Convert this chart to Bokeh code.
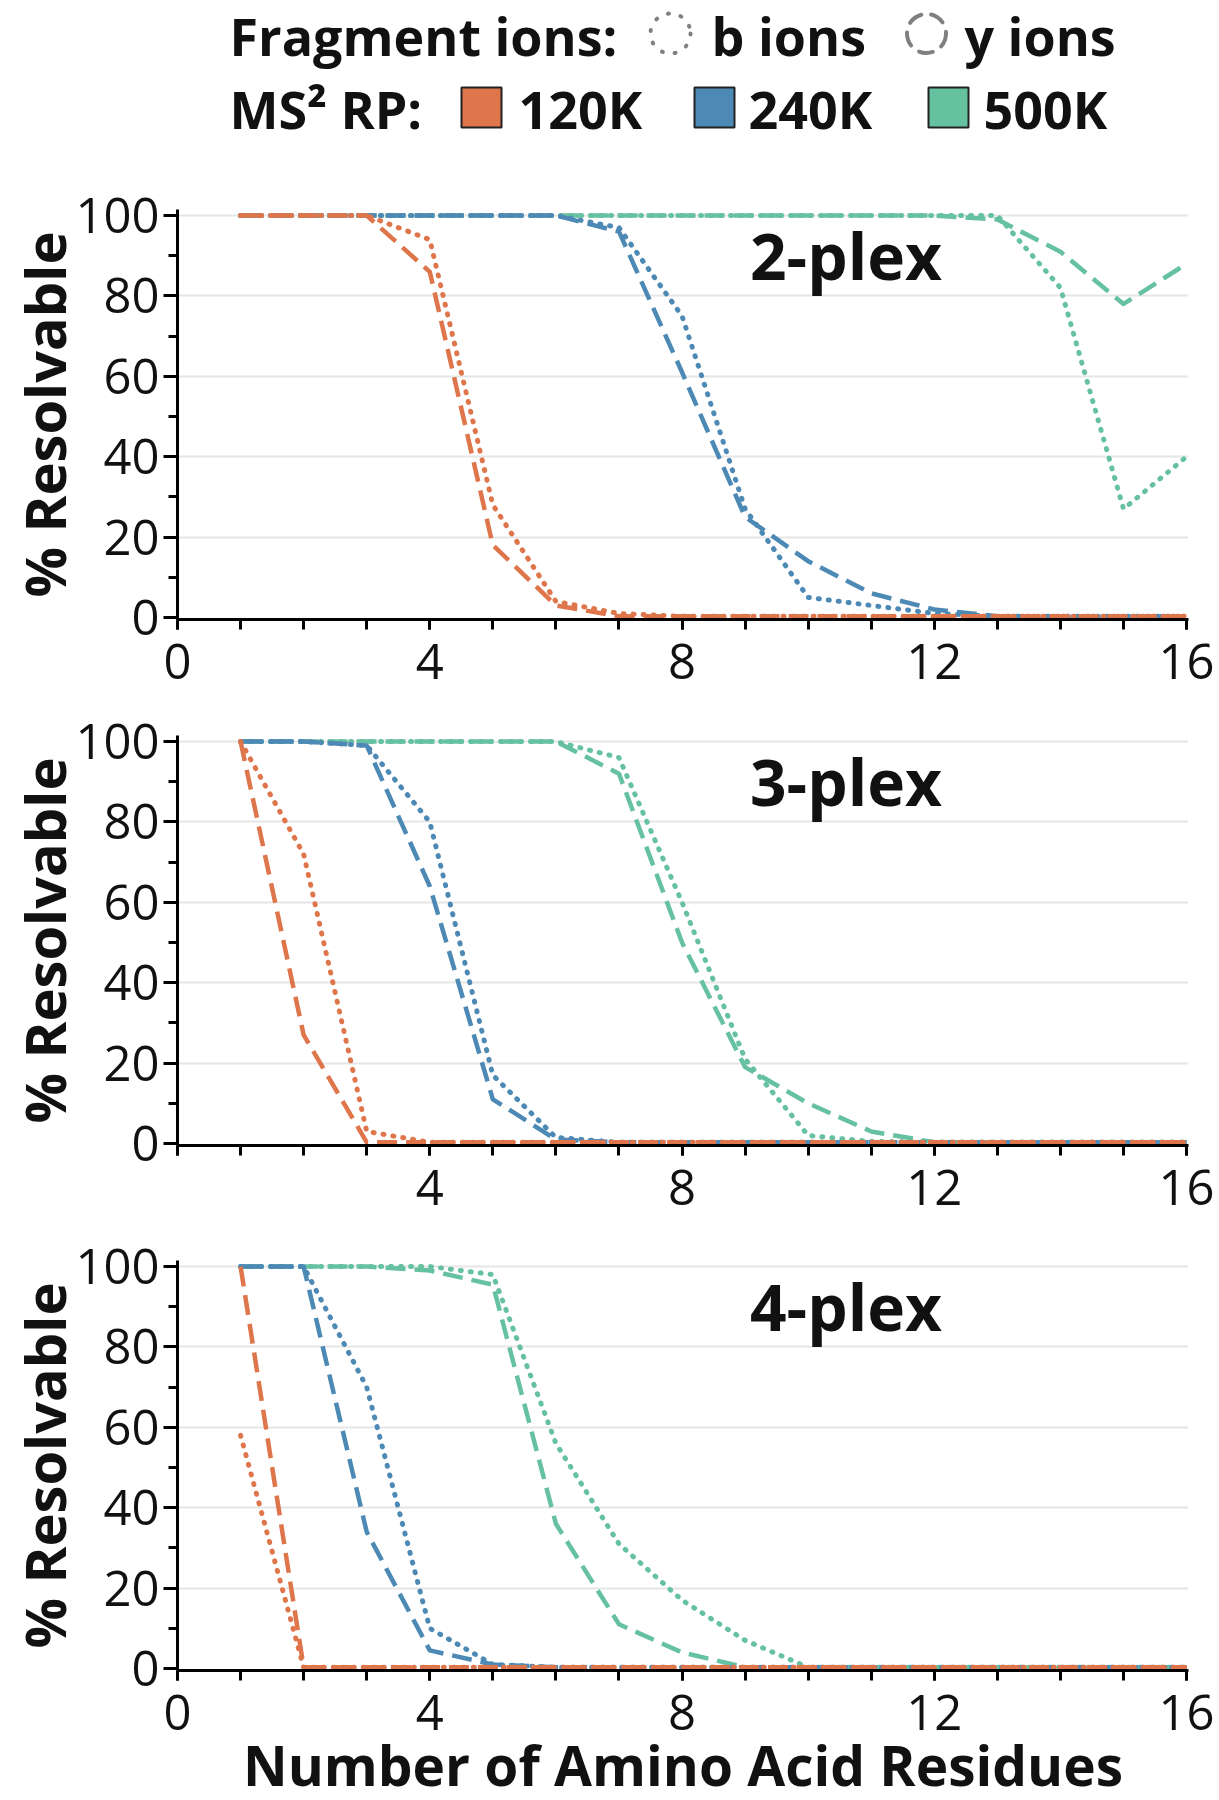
from bokeh.plotting import figure
from bokeh.models import Range1d, FixedTicker, Label
from bokeh.layouts import column
from bokeh.embed import file_html
from bokeh.resources import INLINE
from bokeh.core.properties import value

# ---------------- data ----------------
residues = list(range(1, 17))
plexes = ["2-plex", "3-plex", "4-plex"]
resolutions = ["120K", "240K", "500K"]
res_colors = ["#df754b", "#4d89b5", "#66c1a0"]
ion_types = ["b ions", "y ions"]
x_ticks = [0, 4, 8, 12, 16]
y_ticks = [0, 20, 40, 60, 80, 100]
x_title = "Number of Amino Acid Residues"
y_title = "% Resolvable"

# 2-plex
plex2_120K_b = [100, 100, 100, 94, 28, 4, 1, 0.3, 0.3, 0.3, 0.3, 0.3, 0.3, 0.3, 0.3, 0.3]
plex2_120K_y = [100, 100, 100, 86, 18, 3, 0.3, 0.3, 0.3, 0.3, 0.3, 0.3, 0.3, 0.3, 0.3, 0.3]
plex2_240K_b = [100, 100, 100, 100, 100, 100, 97, 75, 27, 5, 3, 1, 0.3, 0.3, 0.3, 0.3]
plex2_240K_y = [100, 100, 100, 100, 100, 100, 96, 61, 25, 14, 6, 2, 0.3, 0.3, 0.3, 0.3]
plex2_500K_b = [100, 100, 100, 100, 100, 100, 100, 100, 100, 100, 100, 100, 100, 82, 27, 40]
plex2_500K_y = [100, 100, 100, 100, 100, 100, 100, 100, 100, 100, 100, 100, 99, 91, 78, 88]

# 3-plex
plex3_120K_b = [100, 72, 3, 0.3, 0.3, 0.3, 0.3, 0.3, 0.3, 0.3, 0.3, 0.3, 0.3, 0.3, 0.3, 0.3]
plex3_120K_y = [100, 27, 0.3, 0.3, 0.3, 0.3, 0.3, 0.3, 0.3, 0.3, 0.3, 0.3, 0.3, 0.3, 0.3, 0.3]
plex3_240K_b = [100, 100, 99, 80, 17, 1.5, 0.3, 0.3, 0.3, 0.3, 0.3, 0.3, 0.3, 0.3, 0.3, 0.3]
plex3_240K_y = [100, 100, 99, 64, 11, 1, 0.3, 0.3, 0.3, 0.3, 0.3, 0.3, 0.3, 0.3, 0.3, 0.3]
plex3_500K_b = [100, 100, 100, 100, 100, 100, 96, 60, 21, 2, 0.5, 0.3, 0.3, 0.3, 0.3, 0.3]
plex3_500K_y = [100, 100, 100, 100, 100, 100, 92, 50, 19, 10, 3, 0.3, 0.3, 0.3, 0.3, 0.3]

# 4-plex
plex4_120K_b = [58, 0.3, 0.3, 0.3, 0.3, 0.3, 0.3, 0.3, 0.3, 0.3, 0.3, 0.3, 0.3, 0.3, 0.3, 0.3]
plex4_120K_y = [100, 0.3, 0.3, 0.3, 0.3, 0.3, 0.3, 0.3, 0.3, 0.3, 0.3, 0.3, 0.3, 0.3, 0.3, 0.3]
plex4_240K_b = [100, 100, 70, 10, 1, 0.3, 0.3, 0.3, 0.3, 0.3, 0.3, 0.3, 0.3, 0.3, 0.3, 0.3]
plex4_240K_y = [100, 100, 34, 4.5, 1, 0.3, 0.3, 0.3, 0.3, 0.3, 0.3, 0.3, 0.3, 0.3, 0.3, 0.3]
plex4_500K_b = [100, 100, 100, 100, 98, 56, 31, 17, 7, 0.3, 0.3, 0.3, 0.3, 0.3, 0.3, 0.3]
plex4_500K_y = [100, 100, 100, 99, 95.5, 36, 11, 4, 0.3, 0.3, 0.3, 0.3, 0.3, 0.3, 0.3, 0.3]

data = {
    "2-plex": {"120K": (plex2_120K_b, plex2_120K_y), "240K": (plex2_240K_b, plex2_240K_y), "500K": (plex2_500K_b, plex2_500K_y)},
    "3-plex": {"120K": (plex3_120K_b, plex3_120K_y), "240K": (plex3_240K_b, plex3_240K_y), "500K": (plex3_500K_b, plex3_500K_y)},
    "4-plex": {"120K": (plex4_120K_b, plex4_120K_y), "240K": (plex4_240K_b, plex4_240K_y), "500K": (plex4_500K_b, plex4_500K_y)},
}

# ---------------- styling ----------------
FONT = "Open Sans"
INK = "#111111"
BORDER_L, BORDER_R = 177, 31
FRAME_W, FRAME_H = 1011, 410
LEG_H = 150
DOT = dict(line_dash="1 9", line_cap="round")
DASH = dict(line_dash="20 9", line_cap="butt")

# ---------------- legend (data units == page pixels) ----------------
leg = figure(width=BORDER_L + FRAME_W + BORDER_R, height=LEG_H,
             x_range=Range1d(BORDER_L, BORDER_L + FRAME_W), y_range=Range1d(LEG_H, 0),
             x_axis_type=None, y_axis_type=None, output_backend="svg",
             toolbar_location=None, min_border=0,
             min_border_left=BORDER_L, min_border_right=BORDER_R)
leg.outline_line_color = None
txt = dict(text_font=value(FONT), text_font_style="bold", text_font_size="52px",
           text_color=INK, text_baseline="middle", text_align="left")
leg.text(x=[229], y=[35], text=["Fragment ions:"], **txt)
leg.text(x=[711, 964], y=[35, 35], text=ion_types, **txt)
leg.circle(x=[670], y=[33], radius=20, fill_color=None, line_color="#808080",
           line_width=4, line_dash="1 12", line_cap="round")
leg.circle(x=[926], y=[33], radius=19.5, fill_color=None, line_color="#808080",
           line_width=4, line_dash="14 10", line_cap="round")
leg.text(x=[229], y=[108], text=["MS² RP:"], **txt)
leg.rect(x=[481, 714, 948], y=[107, 107, 107], width=40, height=40,
         fill_color=res_colors, line_color="#222222", line_width=2)
leg.text(x=[518, 748, 983], y=[108] * 3, text=resolutions, **txt)

# ---------------- panels ----------------
panels = []
tops = [209 - LEG_H, 32, 31]
bottoms = [84, 84, 126]
for i, plex in enumerate(plexes):
    p = figure(frame_width=FRAME_W, frame_height=FRAME_H,
               x_range=Range1d(0, 16.03), y_range=Range1d(-0.5, 101.5),
               output_backend="svg", toolbar_location=None,
               min_border_left=BORDER_L, min_border_right=BORDER_R,
               min_border_top=tops[i], min_border_bottom=bottoms[i])
    p.outline_line_color = None
    p.background_fill_color = "white"
    p.xgrid.visible = False
    p.ygrid.ticker = FixedTicker(ticks=y_ticks[1:])
    p.ygrid.grid_line_color = "#e6e6e6"
    p.ygrid.grid_line_width = 2

    # draw green, blue, orange (orange on top)
    for res, col in reversed(list(zip(resolutions, res_colors))):
        b_vals, y_vals = data[plex][res]
        p.line(residues, y_vals, line_color=col, line_width=4.5, line_join="round", **DASH)
        p.line(residues, b_vals, line_color=col, line_width=5, line_join="round", **DOT)

    xa = p.xaxis[0]
    xa.ticker = FixedTicker(ticks=x_ticks, minor_ticks=list(range(0, 17)))
    if i == 1:
        xa.major_label_overrides = {0: ""}
    ya = p.yaxis[0]
    ya.ticker = FixedTicker(ticks=y_ticks, minor_ticks=[10, 30, 50, 70, 90])
    for ax in (xa, ya):
        ax.axis_line_width = 3
        ax.axis_line_color = "black"
        ax.major_tick_line_width = 3
        ax.minor_tick_line_width = 3
        ax.major_tick_line_color = "black"
        ax.minor_tick_line_color = "black"
        ax.major_tick_in = 0
        ax.minor_tick_in = 0
        ax.major_label_text_font = FONT
        ax.major_label_text_font_size = "49px"
        ax.major_label_text_color = INK
    xa.major_tick_out = 10
    xa.minor_tick_out = 10
    xa.major_label_standoff = 14
    ya.major_tick_out = 14
    ya.minor_tick_out = 9
    ya.major_label_standoff = 4

    ya.axis_label = y_title
    ya.axis_label_text_font = FONT
    ya.axis_label_text_font_style = "bold"
    ya.axis_label_text_font_size = "56px"
    ya.axis_label_text_color = INK
    ya.axis_label_standoff = -10
    if i == 2:
        xa.axis_label = x_title
        xa.axis_label_text_font = FONT
        xa.axis_label_text_font_style = "bold"
        xa.axis_label_text_font_size = "55px"
        xa.axis_label_text_color = INK
        xa.axis_label_standoff = -6

    p.add_layout(Label(x=10.6, y=90.0, text=plex, text_font=FONT, text_font_style="bold",
                       text_font_size="64px", text_color=INK, text_align="center",
                       text_baseline="middle"))
    panels.append(p)

layout = column(leg, *panels, spacing=0)
open("out.html", "w").write(file_html(layout, INLINE))
